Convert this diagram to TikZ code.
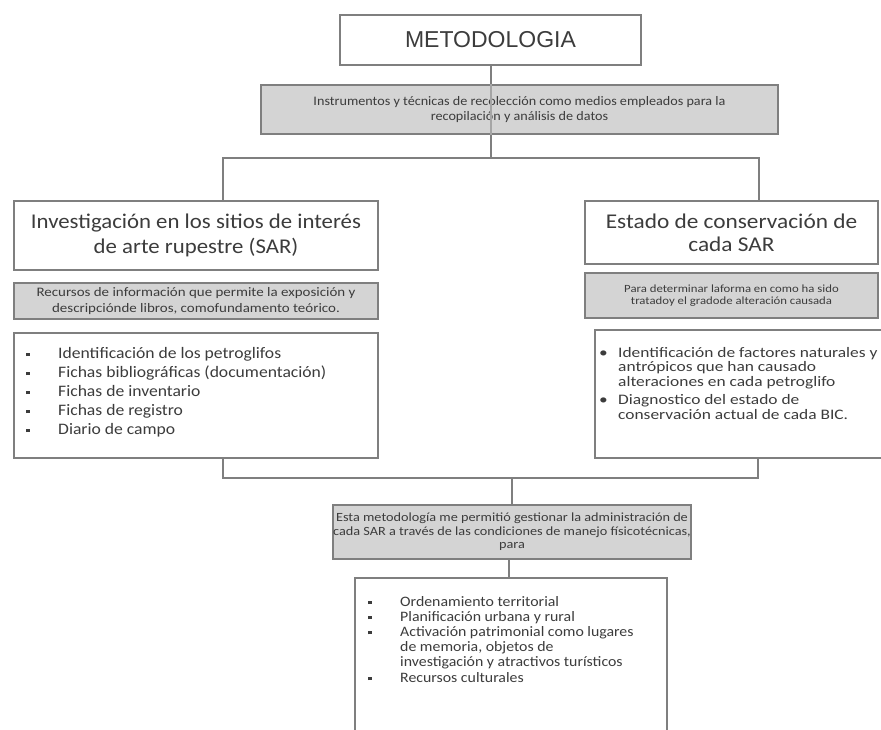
\documentclass[tikz,border=0pt]{standalone}
\usepackage{fontspec}
\setmainfont{Carlito}
\newfontfamily\arialf{Liberation Sans}
\definecolor{bord}{HTML}{7F7F7F}
\definecolor{gfill}{HTML}{D4D4D4}
\definecolor{txt}{HTML}{3C3C3C}
\newcommand{\sqb}{\rule[2pt]{3.5pt}{3.5pt}}
\newcommand{\fz}[3]{\fontsize{#1}{#2}\selectfont\addfontfeatures{FakeStretch=#3}}
\begin{document}
\begin{tikzpicture}[x=1pt,y=-1pt,
  box/.style={draw=bord,line width=1.8pt,fill=white,inner sep=0pt,text=txt,align=center},
  gbox/.style={box,fill=gfill},
  lst/.style={inner sep=0pt,text=txt,anchor=base west,align=left},
  conn/.style={draw=bord,line width=1.8pt}]
\useasboundingbox (0,0) rectangle (881,729);
% top
\node[box,minimum width=301pt,minimum height=50pt,font={\arialf\fontsize{23}{28}\selectfont}] (title) at (490.5,40)
  {METODOLOGIA};
\node[gbox,minimum width=517pt,minimum height=49pt,font={\fz{13}{15}{1.09}}] (g1) at (519.5,109.5)
  {Instrumentos y técnicas de recolección como medios empleados para la\\recopilación y análisis de datos};
% left column
\node[box,minimum width=364pt,minimum height=69pt,font={\fz{21}{25}{1.085}}] (L1) at (196,235.5)
  {Investigación en los sitios de interés\\de arte rupestre (SAR)};
\node[gbox,minimum width=364pt,minimum height=36pt,font={\fz{13}{15.5}{1.15}}] (L2) at (196,301)
  {Recursos de información que permite la exposición y\\descripciónde libros, comofundamento teórico.};
\node[box,minimum width=364pt,minimum height=125pt] (L3) at (196,395.5) {};
\node[lst,font={\fz{16}{19}{1.1}}] (L3t) at (26,358) {%
  \begin{tabular}[t]{@{}p{32pt}@{}l@{}}
  \sqb & Identificación de los petroglifos\\
  \sqb & Fichas bibliográficas (documentación)\\
  \sqb & Fichas de inventario\\
  \sqb & Fichas de registro\\
  \sqb & Diario de campo
  \end{tabular}};
% right column
\node[box,minimum width=293pt,minimum height=63pt,font={\fz{21}{23}{1.11}}] (R1) at (731.5,232.5)
  {Estado de conservación de\\cada SAR};
\node[gbox,minimum width=293pt,minimum height=45pt,font={\fz{11}{12.5}{1.16}}] (R2) at (731.5,295.5)
  {Para determinar laforma en como ha sido\\tratadoy el gradode alteración causada};
\node[box,minimum width=289pt,minimum height=128pt] (R3) at (739.5,394) {};
\node[lst,font={\fz{14.5}{14.8}{1.2}}] (R3t) at (599,357) {%
  \begin{tabular}[t]{@{}p{19pt}@{}l@{}}
  \textbullet & Identificación de factores naturales y\\
   & antrópicos que han causado\\
   & alteraciones en cada petroglifo\\[3pt]
  \textbullet & Diagnostico del estado de\\
   & conservación actual de cada BIC.
  \end{tabular}};
% bottom
\node[gbox,minimum width=356pt,minimum height=54pt,font={\fz{12.5}{13.5}{1.14}}] (B1) at (512,532)
  {Esta metodología me permitió gestionar la administración de\\cada SAR a través de las condiciones de manejo físicotécnicas,\\para};
\node[box,minimum width=312pt,minimum height=170pt] (B2) at (511,663) {};
\node[lst,font={\fz{14.4}{15.2}{1.1}}] (B2t) at (368,606) {%
  \begin{tabular}[t]{@{}p{32pt}@{}l@{}}
  \sqb & Ordenamiento territorial\\
  \sqb & Planificación urbana y rural\\
  \sqb & Activación patrimonial como lugares\\
   & de memoria, objetos de\\
   & investigación y atractivos turísticos\\
  \sqb & Recursos culturales
  \end{tabular}};
% connectors
\coordinate (j1) at (491,158);
\coordinate (jl) at (223,158);
\coordinate (jr) at (759,158);
\coordinate (kl) at (223,478);
\coordinate (km) at (512,478);
\coordinate (kr) at (758,478);
\coordinate (kb) at (509,559);
\draw[conn] (title.south -| j1) -- (g1.north -| j1);
\draw[conn] (g1.south -| j1) -- (j1);
\draw[draw=bord!70,line width=1.2pt] (g1.north -| j1) -- (g1.south -| j1);
\draw[conn] (L1.north -| jl) -- (jl) -- (jr) -- (R1.north -| jr);
\draw[conn] (L3.south -| kl) -- (kl) -- (kr) -- (R3.south -| kr);
\draw[conn] (km) -- (B1.north -| km);
\draw[conn] (B1.south -| kb) -- (B2.north -| kb);
\end{tikzpicture}
\end{document}
